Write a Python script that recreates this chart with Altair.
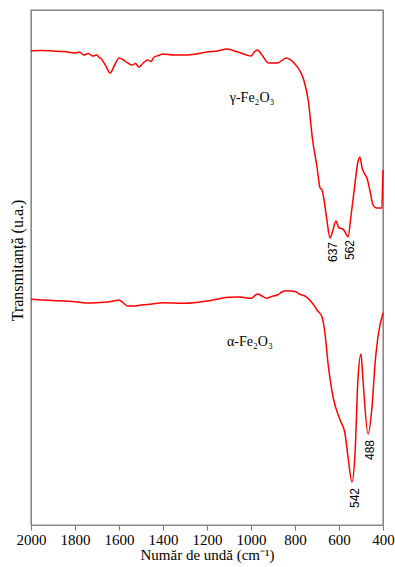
import altair as alt
import pandas as pd

# gamma-Fe2O3 spectrum (wavenumber, transmittance in arbitrary units)
gamma_wn = [2000, 1950, 1900, 1850, 1800, 1780, 1760, 1740, 1720, 1700, 1690, 1680, 1660, 1640,
            1620, 1600, 1580, 1560, 1540, 1525, 1510, 1490, 1470, 1455, 1440, 1420, 1400, 1350,
            1300, 1250, 1200, 1150, 1110, 1060, 1020, 1000, 985, 970, 950, 920, 880, 840, 800,
            780, 760, 740, 720, 700, 686, 677, 668, 655, 641, 630, 614, 600, 582, 570, 559, 545,
            527, 515, 505, 495, 486, 473, 460, 445, 430, 414, 405, 402, 400]
gamma_t = [474.3, 474.5, 474, 473.5, 472, 473, 470, 471.5, 469, 470, 467.5, 466, 459, 452,
           460, 467, 465, 462, 460, 461.5, 458, 462, 465, 463.5, 468, 469.5, 471, 470,
           470, 471, 473, 474, 476, 473, 470, 469, 473, 475, 470, 462, 462, 467, 461,
           455, 445, 425, 385, 358, 337, 335, 325, 305, 287, 293, 304, 297, 296, 292, 288, 310,
           342, 362, 368, 357, 352, 347, 335, 320, 317, 317, 317, 340, 355]

# alpha-Fe2O3 spectrum
alpha_wn = [2000, 1900, 1800, 1750, 1700, 1650, 1620, 1600, 1580, 1560, 1530, 1500, 1450, 1400,
            1300, 1200, 1150, 1100, 1050, 1000, 970, 950, 930, 900, 880, 860, 840, 800, 780,
            750, 718, 700, 677, 664, 650, 627, 595, 573, 559, 541, 527, 514, 500, 491, 468,
            450, 436, 423, 400]
alpha_t = [225.7, 224.5, 223.3, 222, 222.3, 223, 224.3, 225, 222, 219, 219, 220, 221, 222.3,
           221.7, 224, 226, 227.7, 228, 226.7, 231, 229, 226.7, 229, 230, 233, 234.3, 233.5, 231,
           228.3, 221, 215, 208, 192, 162, 128, 105, 92, 68, 43, 72, 145, 171, 145, 91,
           118, 162, 188, 212]

# sample labels
sample_names = ["γ-Fe₂O₃", "α-Fe₂O₃"]
sample_wn = [995, 1005]
sample_t = [427, 183]

# peak labels
peak_text = ["637", "562", "542", "488"]
peak_wn = [628, 550, 527, 459]
peak_t = [273, 275, 27, 75]

# axis ranges
x_range = [400, 2000]
y_range = [0, 515]

SERIF = "Liberation Serif"
SANS = "Liberation Sans"
FRAME = "#888888"

df = pd.concat([
    pd.DataFrame({"wn": gamma_wn, "t": gamma_t, "s": "gamma"}),
    pd.DataFrame({"wn": alpha_wn, "t": alpha_t, "s": "alpha"}),
])
df_names = pd.DataFrame({"wn": sample_wn, "t": sample_t, "label": sample_names})
df_peaks = pd.DataFrame({"wn": peak_wn, "t": peak_t, "label": peak_text})
df_box = pd.DataFrame({"x1": [x_range[0]], "x2": [x_range[1]],
                       "y1": [y_range[0]], "y2": [y_range[1]]})

xscale = alt.Scale(domain=x_range, reverse=True, nice=False)
yscale = alt.Scale(domain=y_range, nice=False)

x_axis = alt.Axis(
    title="Număr de undă (cm⁻¹)",
    values=list(range(400, 2001, 100)),
    labelExpr="datum.value % 200 == 0 ? '' + datum.value : ''",
    grid=False, tickSize=5, tickColor="#777", domainColor=FRAME,
    labelFont=SERIF, labelFontSize=15, labelColor="black", labelPadding=2,
    titleFont=SERIF, titleFontSize=15, titleFontWeight="normal",
    titleColor="black", titlePadding=0, labelFlush=False,
)
y_axis = alt.Axis(
    title="Transmitanță (u.a.)", ticks=False, labels=False, grid=False,
    domainColor=FRAME, titleFont=SERIF, titleFontSize=16,
    titleFontWeight="normal", titleColor="black", titlePadding=6, titleY=250,
)

box = alt.Chart(df_box).mark_rect(filled=False, stroke=FRAME, strokeWidth=1.2,
                                  fill="transparent").encode(
    x=alt.X("x1:Q", scale=xscale, axis=x_axis), x2="x2:Q",
    y=alt.Y("y1:Q", scale=yscale, axis=y_axis), y2="y2:Q",
)

lines = alt.Chart(df).mark_line(color="#ff0000", strokeWidth=1.5, interpolate="monotone").encode(
    x=alt.X("wn:Q", scale=xscale, axis=x_axis),
    y=alt.Y("t:Q", scale=yscale, axis=y_axis),
    detail="s:N",
)

names = alt.Chart(df_names).mark_text(
    font=SERIF, fontSize=14, color="black"
).encode(x=alt.X("wn:Q", scale=xscale), y=alt.Y("t:Q", scale=yscale), text="label:N")

peaks = alt.Chart(df_peaks).mark_text(
    font=SANS, fontSize=12, color="black", angle=270
).encode(x=alt.X("wn:Q", scale=xscale), y=alt.Y("t:Q", scale=yscale), text="label:N")

chart = alt.layer(box, lines, names, peaks).properties(
    width=352, height=515,
    autosize=alt.AutoSizeParams(type="none"),
    padding={"left": 31, "top": 10, "right": 12, "bottom": 42},
).configure(background="white", font=SERIF).configure_view(stroke=FRAME, strokeWidth=1)

chart.save("out.html", embed_options={"renderer": "svg", "actions": False})
